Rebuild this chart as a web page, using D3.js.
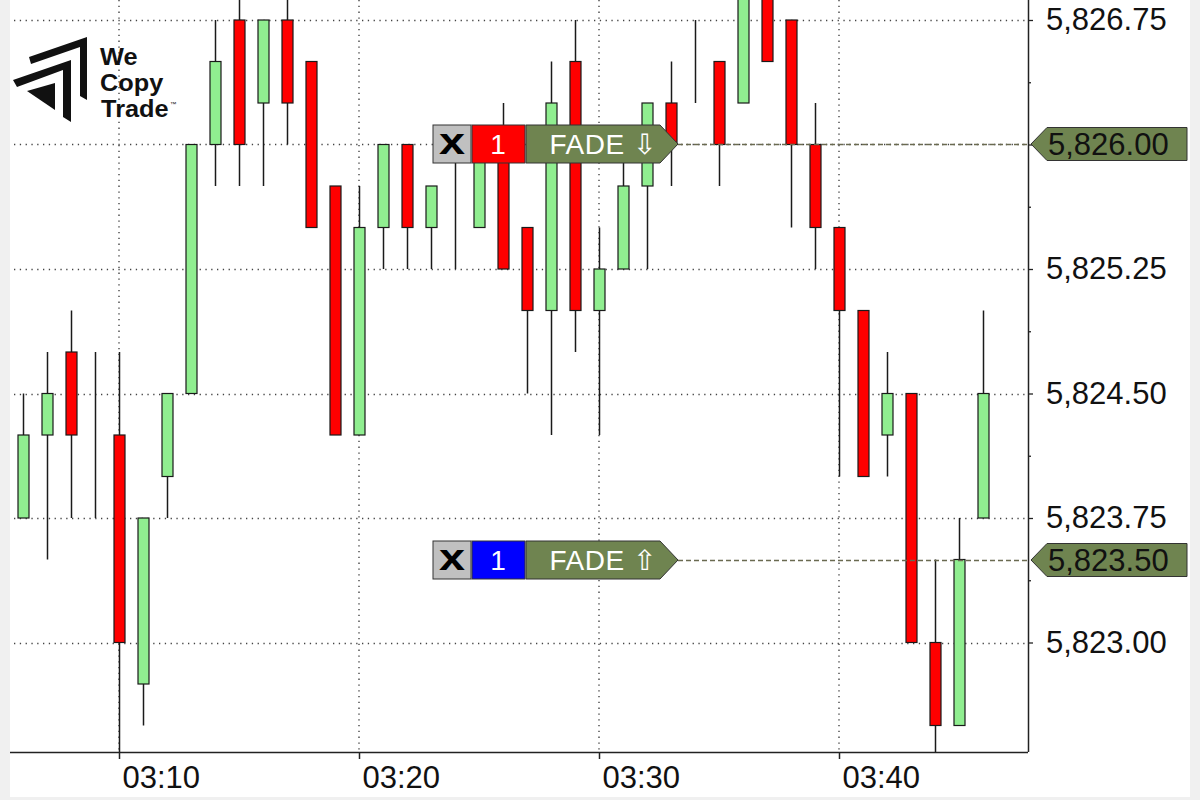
<!DOCTYPE html>
<html><head><meta charset="utf-8">
<script src="https://cdn.jsdelivr.net/npm/d3@7"></script>
<style>body{margin:0;background:#f0f0f0}svg{display:block}</style>
</head><body><svg id="c" width="1200" height="800"></svg>
<script>
// ---- data ----
const times = ["03:06","03:07","03:08","03:09","03:10","03:11","03:12","03:13","03:14","03:15",
  "03:16","03:17","03:18","03:19","03:20","03:21","03:22","03:23","03:24","03:25",
  "03:26","03:27","03:28","03:29","03:30","03:31","03:32","03:33","03:34","03:35",
  "03:36","03:37","03:38","03:39","03:40","03:41","03:42","03:43","03:44","03:45","03:46"];
const opens = [5823.75,5824.25,5824.75,5824.25,5824.25,5822.75,5824.00,5824.50,5826.00,5826.75,
  5826.25,5826.75,5826.50,5825.75,5824.25,5825.50,5826.00,5825.50,5825.75,5825.50,
  5826.00,5825.50,5825.00,5826.50,5825.00,5825.25,5825.75,5826.25,5826.25,5826.50,
  5826.25,5827.00,5826.75,5826.00,5825.50,5825.00,5824.25,5824.50,5823.00,5822.50,5823.75];
const highs = [5824.50,5824.75,5825.00,5824.75,5824.75,5823.75,5824.50,5826.00,5826.75,5827.00,
  5826.75,5827.00,5826.50,5825.75,5825.75,5826.00,5826.00,5825.75,5826.00,5826.00,
  5826.25,5825.50,5826.50,5826.75,5825.50,5826.00,5826.25,5826.50,5826.75,5826.50,
  5827.00,5827.00,5826.75,5826.25,5825.50,5825.00,5824.75,5824.50,5823.50,5823.75,5825.00];
const lows = [5823.75,5823.50,5823.75,5823.75,5822.25,5822.50,5823.75,5824.50,5825.75,5825.75,
  5825.75,5826.00,5825.50,5824.25,5824.25,5825.25,5825.25,5825.25,5825.25,5825.50,
  5825.25,5824.50,5824.25,5824.75,5824.25,5825.25,5825.25,5825.75,5826.25,5825.75,
  5826.25,5826.50,5825.50,5825.25,5824.00,5824.00,5824.00,5823.00,5822.25,5822.50,5823.75];
const closes = [5824.25,5824.50,5824.25,5824.25,5823.00,5823.75,5824.50,5826.00,5826.50,5826.00,
  5826.75,5826.25,5825.50,5824.25,5825.50,5826.00,5825.50,5825.75,5825.75,5826.00,
  5825.25,5825.00,5826.25,5825.00,5825.25,5825.75,5826.25,5826.00,5826.25,5826.00,
  5827.00,5826.50,5826.00,5825.50,5825.00,5824.00,5824.50,5823.00,5822.50,5823.50,5824.50];
const priceTicks = [5823.00,5823.75,5824.50,5825.25,5826.00,5826.75];
const minorPriceTicks = [5823.375,5824.125,5824.875,5825.625,5826.375];
const timeTicks = ["03:10","03:20","03:30","03:40"];
const orderPrices = [5826.00,5823.50];
const orderQty = ["1","1"];
const orderSide = ["sell","buy"];
const orderText = ["FADE \u21E9","FADE \u21E7"];
const logoLines = ["We","Copy","Trade"];

// ---- layout ----
const svg = d3.select("#c");
const L = 10, R = 1028, T = 0, B = 752;
const parse = d3.timeParse("%H:%M");
const x = d3.scaleTime().domain([parse("03:10"), parse("03:40")]).range([119, 839]);
const y = d3.scaleLinear().domain([5823.00, 5826.75]).range([642.5, 20]);
const fmtP = d3.format(",.2f");

svg.append("rect").attr("width",1200).attr("height",800).attr("fill","#f0f0f0");
svg.append("rect").attr("x",L).attr("y",0).attr("width",1180).attr("height",797).attr("fill","#fff");

svg.append("defs").append("clipPath").attr("id","plot")
  .append("rect").attr("x",L).attr("y",T).attr("width",R-L).attr("height",B-T);

// grid
const grid = svg.append("g").attr("stroke","#444").attr("stroke-width",1.4).attr("stroke-dasharray","1.3,4.5");
grid.selectAll("line.h").data(priceTicks).join("line").attr("class","h")
  .attr("x1",L+4).attr("x2",R).attr("y1",d=>Math.round(y(d))+0.5).attr("y2",d=>Math.round(y(d))+0.5);
grid.selectAll("line.v").data(timeTicks).join("line").attr("class","v")
  .attr("x1",d=>x(parse(d))).attr("x2",d=>x(parse(d))).attr("y1",T).attr("y2",B);

// logo
const logo = svg.append("g").attr("fill","#111");
logo.append("path").attr("d","M29,57 L87,37 L87,100 L80,96 L80,47 L31,64 Z");
logo.append("path").attr("d","M13,80 L71,60 L71,122 L63,117 L63,70 L17,87 Z");
logo.append("path").attr("d","M27,91 L55,83 L55,110 Z");
const lt = logo.append("g").attr("font-family","'Liberation Sans', Arial, sans-serif").attr("font-weight",700)
  .attr("font-size",23).attr("transform","translate(100,0) scale(1.1,1) translate(-100,0)");
lt.append("text").attr("x",100).attr("y",65).text(logoLines[0]);
lt.append("text").attr("x",100).attr("y",91).text(logoLines[1]);
const tr = lt.append("text").attr("x",101).attr("y",117);
tr.append("tspan").text(logoLines[2]);
tr.append("tspan").attr("dx",1).attr("dy",-11).attr("font-size",6).attr("font-weight",400).text("\u2122");

// candles
const data = times.map((t,i)=>({t:parse(t),o:opens[i],h:highs[i],l:lows[i],c:closes[i]}));
const cg = svg.append("g").attr("clip-path","url(#plot)");
const bw = 11;
cg.selectAll("line.w").data(data).join("line").attr("class","w")
  .attr("x1",d=>Math.round(x(d.t))+0.5).attr("x2",d=>Math.round(x(d.t))+0.5)
  .attr("y1",d=>y(d.h)).attr("y2",d=>y(d.l))
  .attr("stroke","#1a1a1a").attr("stroke-width",1.5);
cg.selectAll("rect.b").data(data).join("rect").attr("class","b")
  .attr("x",d=>Math.round(x(d.t))-bw/2+0.5).attr("width",bw)
  .attr("y",d=>y(Math.max(d.o,d.c))).attr("height",d=>Math.abs(y(d.o)-y(d.c)))
  .attr("fill",d=>d.c>d.o?"#90ee90":(d.c<d.o?"#ff0000":"none"))
  .attr("stroke","#1a1a1a").attr("stroke-width",1.2);

// axes
const yAxis = d3.axisRight(y).tickValues(priceTicks).tickFormat(fmtP).tickSize(5).tickPadding(13);
const ya = svg.append("g").attr("transform",`translate(${R},0)`).call(yAxis);
ya.select(".domain").attr("d",`M0.5,${T}V${B}`).attr("stroke","#222").attr("stroke-width",1.5);
ya.selectAll("text").attr("font-family","'Liberation Sans', Arial, sans-serif").attr("font-size",31).attr("fill","#111");
ya.selectAll(".tick line").attr("stroke","#222").attr("stroke-width",1.3);
const ym = svg.append("g").attr("transform",`translate(${R},0)`)
  .call(d3.axisRight(y).tickValues(minorPriceTicks).tickSize(3).tickFormat(""));
ym.select(".domain").remove();
ym.selectAll(".tick line").attr("stroke","#222").attr("stroke-width",1.3);

const xAxis = d3.axisBottom(x).tickValues(timeTicks.map(parse)).tickFormat(d3.timeFormat("%H:%M")).tickSize(7);
const xa = svg.append("g").attr("transform",`translate(0,${B})`).call(xAxis);
xa.select(".domain").attr("d",`M${L},0.5H${R}`).attr("stroke","#222").attr("stroke-width",1.5);
xa.selectAll(".tick line").attr("stroke","#222").attr("stroke-width",1.5);
xa.selectAll("text").attr("font-family","'Liberation Sans', Arial, sans-serif").attr("font-size",31)
  .attr("fill","#111").attr("text-anchor","start").attr("x",3).attr("y",36).attr("dy",null);

// order labels
const olive = "#6f8450";
orderPrices.forEach((p,i)=>{
  const yy = Math.round(y(p));
  const g = svg.append("g");
  g.append("line").attr("x1",678).attr("x2",R).attr("y1",yy+0.5).attr("y2",yy+0.5)
    .attr("stroke","#6a6a50").attr("stroke-width",1.3).attr("stroke-dasharray","5,3");
  const top = yy-19, h = 38;
  g.append("rect").attr("x",433).attr("y",top).attr("width",38).attr("height",h)
    .attr("fill","#c0c0c0").attr("stroke","#333").attr("stroke-width",1);
  g.append("text").attr("x",452).attr("y",yy+10).attr("text-anchor","middle")
    .attr("font-family","'Liberation Sans', Arial, sans-serif").attr("font-weight",700).attr("font-size",36)
    .attr("transform",`translate(452,0) scale(1.3,1) translate(-452,0)`).attr("fill","#000").text("x");
  g.append("rect").attr("x",472).attr("y",top).attr("width",53).attr("height",h)
    .attr("fill",orderSide[i]==="sell"?"#ff0000":"#0000ff").attr("stroke","#333").attr("stroke-width",1);
  g.append("text").attr("x",498).attr("y",yy+10).attr("text-anchor","middle")
    .attr("font-family","'Liberation Sans', Arial, sans-serif").attr("font-size",28).attr("fill","#fff").text(orderQty[i]);
  g.append("path").attr("d",`M526,${top} H660 L678,${yy} L660,${top+h} H526 Z`)
    .attr("fill",olive).attr("stroke","#333").attr("stroke-width",1);
  g.append("text").attr("x",603).attr("y",yy+10).attr("text-anchor","middle")
    .attr("font-family","'Liberation Sans', Arial, sans-serif").attr("font-size",28)
    .attr("fill","#ffffff").attr("letter-spacing",0.5).text(orderText[i]);
  // price marker on the axis
  g.append("path").attr("d",`M1031,${yy} L1047,${yy-16.5} H1187 V${yy+16.5} H1047 Z`)
    .attr("fill",olive).attr("stroke","#333").attr("stroke-width",1);
  g.append("text").attr("x",1048).attr("y",yy+11).attr("font-family","'Liberation Sans', Arial, sans-serif")
    .attr("font-size",31).attr("fill","#111").text(fmtP(p));
});
</script></body></html>
